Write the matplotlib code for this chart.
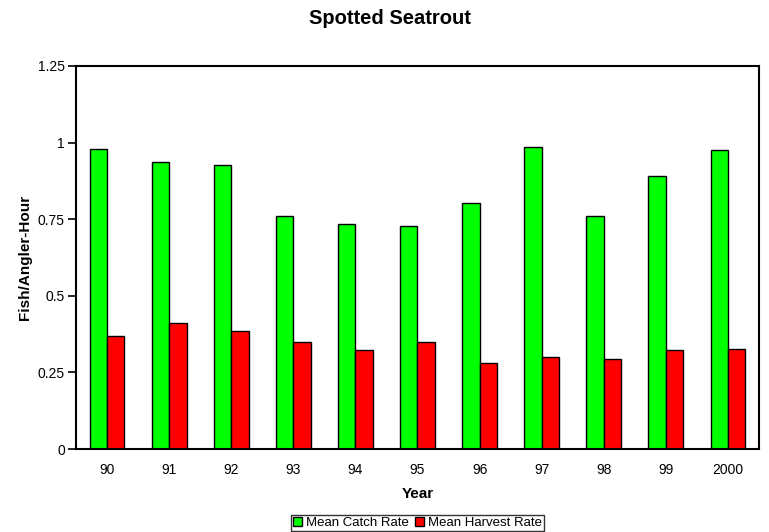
import numpy as np
import matplotlib
matplotlib.use("Agg")
import matplotlib.pyplot as plt

plt.rcParams['font.family'] = ['Liberation Sans', 'DejaVu Sans']

years = ["90", "91", "92", "93", "94", "95", "96", "97", "98", "99", "2000"]
catch_rate = [0.979, 0.937, 0.928, 0.760, 0.733, 0.728, 0.803, 0.986, 0.760, 0.891, 0.975]
harvest_rate = [0.369, 0.410, 0.384, 0.348, 0.322, 0.348, 0.280, 0.300, 0.295, 0.322, 0.327]

fig = plt.figure(figsize=(7.69, 5.32), dpi=100)
ax = fig.add_axes([0.0988, 0.156, 0.8882, 0.720])

x = np.arange(len(years))
w = 0.28
ax.bar(x - w/2, catch_rate, w, color='#00ff00', edgecolor='black', linewidth=1, label='Mean Catch Rate')
ax.bar(x + w/2, harvest_rate, w, color='#ff0000', edgecolor='black', linewidth=1, label='Mean Harvest Rate')

ax.set_xlim(-0.5, len(years) - 0.5)
ax.set_ylim(0, 1.25)
ax.set_yticks([0, 0.25, 0.5, 0.75, 1, 1.25])
ax.set_yticklabels(["0", "0.25", "0.5", "0.75", "1", "1.25"])
ax.set_xticks(x)
ax.set_xticklabels(years)
ax.tick_params(axis='x', length=0, pad=10, labelsize=10)
ax.tick_params(axis='y', length=6, width=1.2, direction='out', labelsize=10, pad=2)
for s in ax.spines.values():
    s.set_linewidth(1.5)

ax.set_xlabel("Year", fontsize=11, fontweight='bold', labelpad=7)
ax.set_ylabel("Fish/Angler-Hour", fontsize=11, fontweight='bold', labelpad=4)
# title is centred on the whole chart area, not the plot area
fig.text(390 / 769, 1 - 18 / 532, "Spotted Seatrout", fontsize=14.5, fontweight='bold',
         ha='center', va='center')

leg = ax.legend(loc='center', bbox_to_anchor=(0.5, -0.193), ncol=2, fontsize=9.5,
                frameon=True, fancybox=False, edgecolor='black', handlelength=0.7,
                handleheight=0.7, handletextpad=0.3, columnspacing=0.4,
                borderpad=0.15, borderaxespad=0)
leg.get_frame().set_linewidth(1)

fig.savefig("out.png", dpi=100)
